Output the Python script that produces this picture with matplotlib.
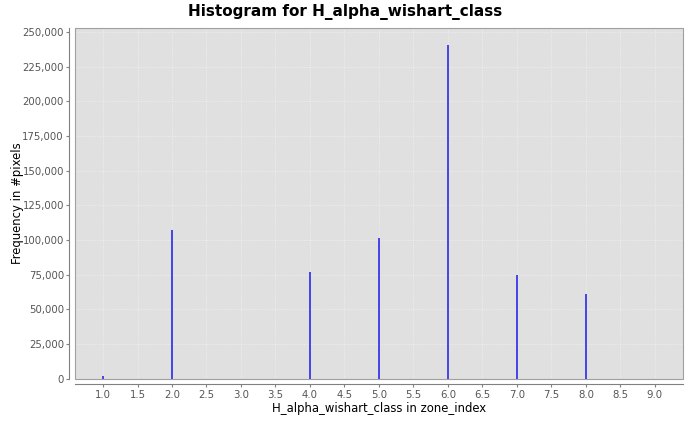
import matplotlib.pyplot as plt
import matplotlib.patches as mpatches
from matplotlib.ticker import FuncFormatter, MultipleLocator

# Histogram data
classes = [1.0, 2.0, 4.0, 5.0, 6.0, 7.0, 8.0]
counts = [2000, 106800, 77000, 101500, 240500, 75000, 61000]

fig = plt.figure(figsize=(6.9, 4.23), dpi=100)
ax = fig.add_axes([0.1087, 0.1052, 0.881, 0.8286])
ax.set_facecolor('#e0e0e0')

ax.bar(classes, counts, width=0.025, color='#4848e8', linewidth=0, zorder=3)

ax.set_xlim(0.594, 9.406)
ax.set_ylim(0, 252900)
ax.xaxis.set_major_locator(MultipleLocator(0.5))
ax.yaxis.set_major_locator(MultipleLocator(25000))
ax.xaxis.set_major_formatter(FuncFormatter(lambda v, p: f'{v:.1f}'))
ax.yaxis.set_major_formatter(FuncFormatter(lambda v, p: f'{int(v):,}'))

ax.grid(True, color='#f4f4f4', linestyle=(0, (1.5, 2)), linewidth=0.5, zorder=1)

for s in ['top', 'right']:
    ax.spines[s].set_visible(False)
for s in ['left', 'bottom']:
    ax.spines[s].set_position(('outward', 4))
    ax.spines[s].set_color('#808080')
ax.add_patch(mpatches.Rectangle((0, 0), 1, 1, transform=ax.transAxes, fill=False,
                                edgecolor='#a0a0a0', linewidth=0.8, zorder=4, clip_on=False))

ax.tick_params(axis='both', length=2, color='#808080', labelcolor='#555555', labelsize=7.3, pad=2)

fig.suptitle('Histogram for H_alpha_wishart_class', fontsize=11, fontweight='bold', x=0.5, y=0.99, va='top')
ax.set_xlabel('H_alpha_wishart_class in zone_index', fontsize=8.4, labelpad=2)
fig.text(18 / 690, 0.52, 'Frequency in #pixels', fontsize=8.4, rotation=90, ha='center', va='center')

fig.savefig('out.png', dpi=100)
